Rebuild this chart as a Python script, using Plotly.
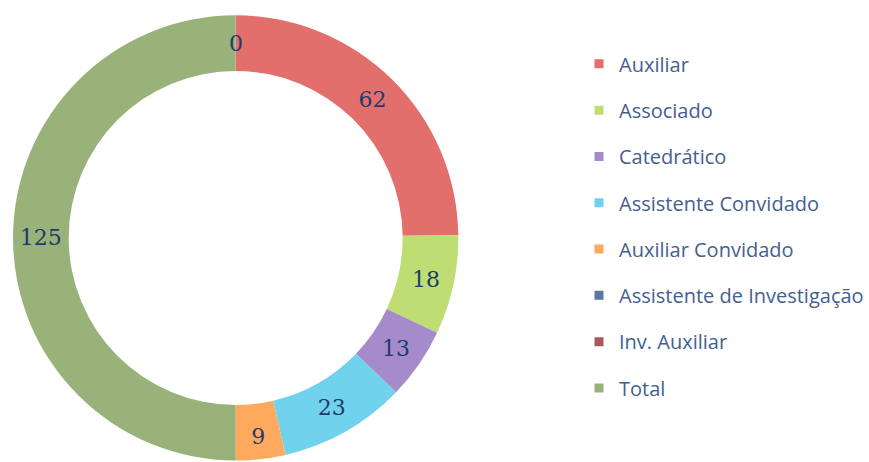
import plotly.graph_objects as go

# categorias e valores (ordem da legenda)
categorias = ["Auxiliar", "Associado", "Catedrático", "Assistente Convidado",
              "Auxiliar Convidado", "Assistente de Investigação", "Inv. Auxiliar", "Total"]
valores = [62, 18, 13, 23, 9, 0, 0, 125]
cores = ["#E26F6C", "#BEDD72", "#A68BCB", "#70D2EC",
         "#FFA95E", "#5A77A6", "#A85A5A", "#98B27A"]

fig = go.Figure()

# ============================================================
#   DONUT
# ============================================================
fig.add_trace(go.Pie(
    labels=categorias,
    values=valores,
    text=[str(v) if v else "" for v in valores],
    textinfo="text",
    textposition="inside",
    insidetextorientation="horizontal",
    textfont=dict(family="DejaVu Serif", size=22, color="#1F3B6B"),
    marker=dict(colors=cores, line=dict(width=0)),
    hole=0.75,
    sort=False,
    direction="clockwise",
    rotation=0,
    showlegend=False,
    domain=dict(x=[0.015, 0.528], y=[0.0, 0.97]),
))

# --- legenda feita com traços vazios (permite controlar o espaçamento) ---
for cat, cor in zip(categorias, cores):
    fig.add_trace(go.Scatter(
        x=[None], y=[None], mode="markers", name=cat,
        legendgroup=cat,
        marker=dict(symbol="square", size=9, color=cor),
    ))

# rótulo "0" no topo (fatias nulas)
zeros = [v for v in valores if v == 0]
fig.add_annotation(
    x=0.2716, y=0.905, xref="paper", yref="paper",
    xanchor="center", yanchor="middle",
    text=str(zeros[0]), showarrow=False,
    font=dict(family="DejaVu Serif", size=22, color="#1F3B6B"),
)

fig.update_layout(
    width=869, height=462,
    margin=dict(l=0, r=0, t=0, b=0),
    paper_bgcolor="white",
    plot_bgcolor="white",
    xaxis=dict(visible=False),
    yaxis=dict(visible=False),
    legend=dict(
        x=0.667, y=0.904, xanchor="left", yanchor="top",
        font=dict(family="Open Sans", size=20, color="#44608F"),
        tracegroupgap=17.3,
        itemclick=False,
    ),
)

fig.write_html("out.html", config={"displayModeBar": False},
               post_script="document.body.style.margin='0';")
